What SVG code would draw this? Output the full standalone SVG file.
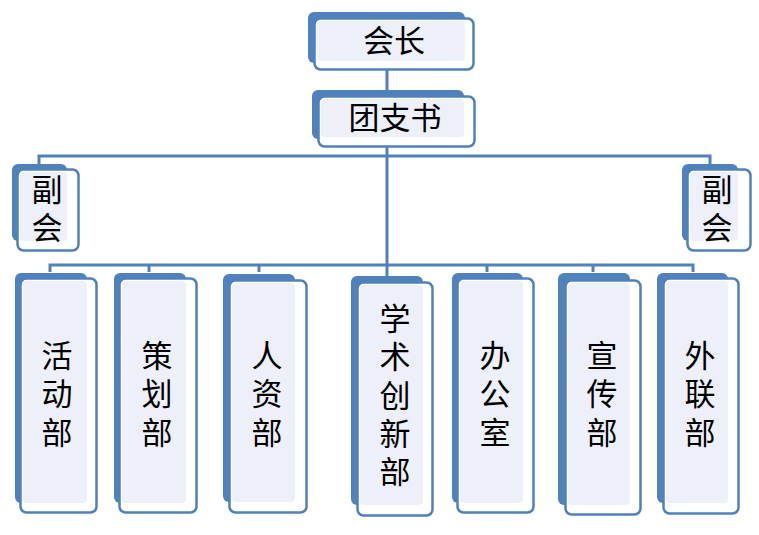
<svg xmlns="http://www.w3.org/2000/svg" width="759" height="535" viewBox="0 0 759 535">
<style>
.bg{fill:#ffffff}
.conn{fill:none;stroke:#4F81BD;stroke-width:3}
.back{fill:#4F81BD}
.front{fill:#ffffff;stroke:#4F81BD;stroke-width:2.5}
.inner{fill:#EDF0F8}
.t{font-family:"Noto Sans CJK SC","Liberation Sans",sans-serif;font-size:31px;fill:#000;text-anchor:middle}
</style>
<rect class="bg" x="0" y="0" width="759" height="535"/>
<g id="connectors">
<path class="conn" d="M387,68 V276"/>
<path class="conn" d="M39,164 V156 H710 V164"/>
<path class="conn" d="M50,272 V265 H693 V272"/>
<path class="conn" d="M149,265 V272 M259,265 V272 M487,265 V272 M593,265 V272"/>
</g>
<g id="n-huizhang">
<rect class="back" x="308" y="12" width="157" height="51" rx="6"/>
<rect class="front" x="314.5" y="18.5" width="159" height="51" rx="6"/>
<rect class="inner" x="317" y="21" width="148" height="40" rx="4"/>
<text class="t" x="394" y="52">会长</text>
</g>
<g id="n-tuanzhishu">
<rect class="back" x="312" y="90" width="152" height="49" rx="6"/>
<rect class="front" x="318.5" y="96.5" width="156" height="50" rx="6"/>
<rect class="inner" x="321" y="99" width="143" height="38" rx="4"/>
<text class="t" x="395" y="129">团支书</text>
</g>
<g id="n-fuhui-left">
<rect class="back" x="12" y="164" width="55" height="77" rx="6"/>
<rect class="front" x="17.5" y="169.5" width="61" height="81" rx="6"/>
<rect class="inner" x="20" y="172" width="47" height="69" rx="4"/>
<text class="t" x="47" y="201">副</text>
<text class="t" x="47" y="239">会</text>
</g>
<g id="n-fuhui-right">
<rect class="back" x="682" y="164" width="56" height="77" rx="6"/>
<rect class="front" x="687.5" y="169.5" width="63" height="81" rx="6"/>
<rect class="inner" x="690" y="172" width="48" height="69" rx="4"/>
<text class="t" x="717" y="201">副</text>
<text class="t" x="717" y="239">会</text>
</g>
<g id="n-huodong">
<rect class="back" x="15" y="273" width="72" height="230" rx="6"/>
<rect class="front" x="20.5" y="278.5" width="76" height="234" rx="6"/>
<rect class="inner" x="23" y="281" width="64" height="222" rx="4"/>
<text class="t" x="57" y="367">活</text>
<text class="t" x="57" y="405">动</text>
<text class="t" x="57" y="444">部</text>
</g>
<g id="n-cehua">
<rect class="back" x="114" y="273" width="72" height="230" rx="6"/>
<rect class="front" x="119.5" y="278.5" width="77" height="234" rx="6"/>
<rect class="inner" x="122" y="281" width="64" height="222" rx="4"/>
<text class="t" x="157" y="367">策</text>
<text class="t" x="157" y="405">划</text>
<text class="t" x="157" y="444">部</text>
</g>
<g id="n-renzi">
<rect class="back" x="223" y="274" width="72" height="228" rx="6"/>
<rect class="front" x="229.5" y="280.5" width="77" height="232" rx="6"/>
<rect class="inner" x="232" y="283" width="63" height="219" rx="4"/>
<text class="t" x="267" y="367">人</text>
<text class="t" x="267" y="405">资</text>
<text class="t" x="267" y="444">部</text>
</g>
<g id="n-xueshu">
<rect class="back" x="351" y="276" width="72" height="229" rx="6"/>
<rect class="front" x="357.5" y="282.5" width="75" height="233" rx="6"/>
<rect class="inner" x="360" y="285" width="63" height="220" rx="4"/>
<text class="t" x="395" y="330">学</text>
<text class="t" x="395" y="368">术</text>
<text class="t" x="395" y="407">创</text>
<text class="t" x="395" y="445">新</text>
<text class="t" x="395" y="483">部</text>
</g>
<g id="n-bangong">
<rect class="back" x="452" y="273" width="71" height="230" rx="6"/>
<rect class="front" x="457.5" y="278.5" width="76" height="234" rx="6"/>
<rect class="inner" x="460" y="281" width="63" height="222" rx="4"/>
<text class="t" x="495" y="367">办</text>
<text class="t" x="495" y="405">公</text>
<text class="t" x="495" y="444">室</text>
</g>
<g id="n-xuanchuan">
<rect class="back" x="558" y="273" width="72" height="232" rx="6"/>
<rect class="front" x="565.5" y="280.5" width="75" height="234" rx="6"/>
<rect class="inner" x="568" y="283" width="62" height="222" rx="4"/>
<text class="t" x="602" y="367">宣</text>
<text class="t" x="602" y="405">传</text>
<text class="t" x="602" y="444">部</text>
</g>
<g id="n-wailian">
<rect class="back" x="657" y="273" width="71" height="230" rx="6"/>
<rect class="front" x="663.5" y="278.5" width="75" height="235" rx="6"/>
<rect class="inner" x="666" y="281" width="62" height="222" rx="4"/>
<text class="t" x="700" y="367">外</text>
<text class="t" x="700" y="405">联</text>
<text class="t" x="700" y="444">部</text>
</g>
</svg>
